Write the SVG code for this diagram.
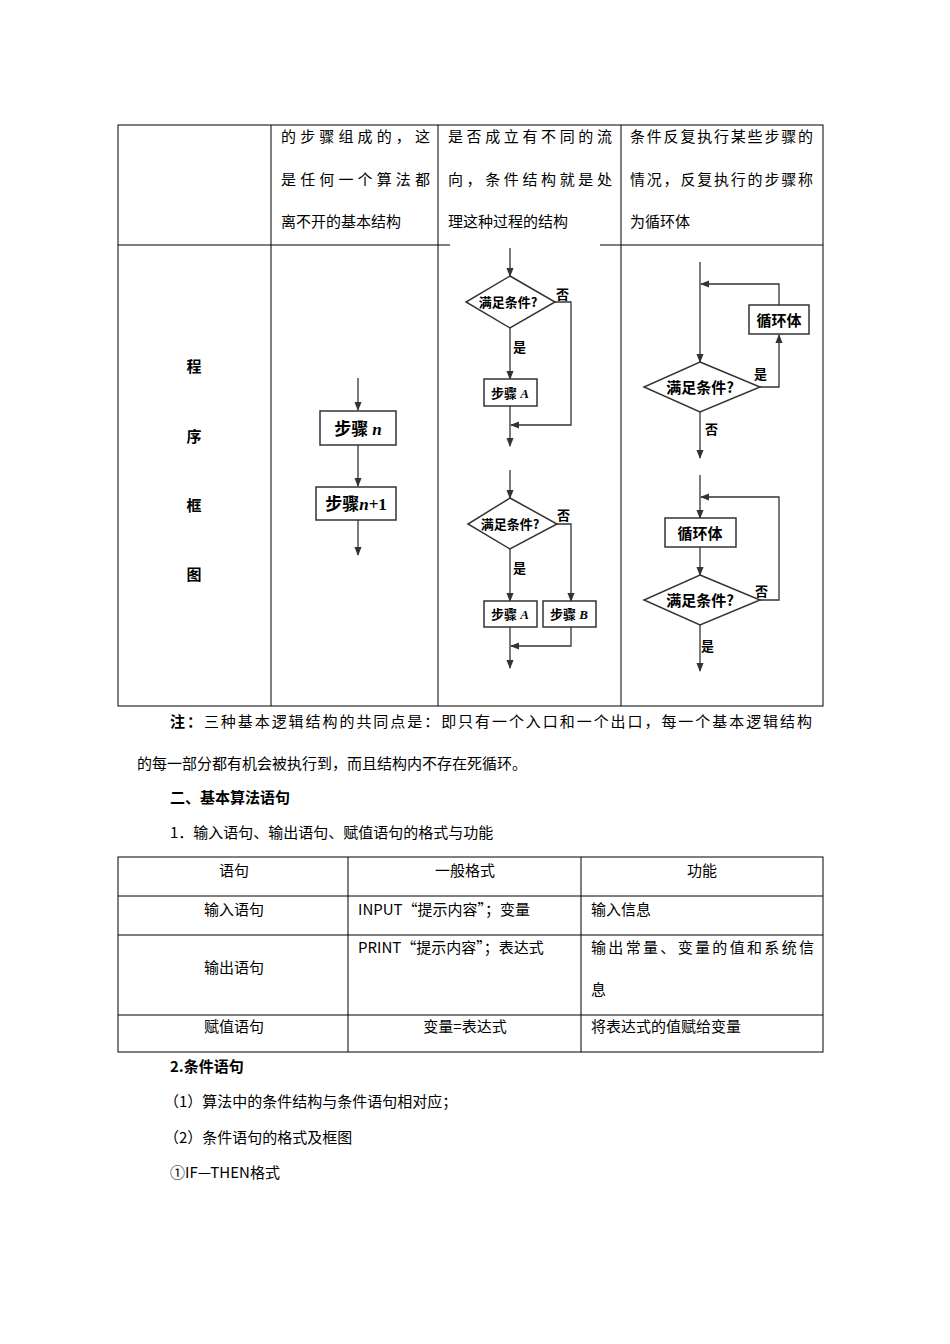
<svg xmlns="http://www.w3.org/2000/svg" width="950" height="1344" viewBox="0 0 950 1344">
<style>
text{font-family:"Noto Sans CJK SC",sans-serif;fill:#000}
.t{font-size:15px}
.b{font-weight:bold}
.c{text-anchor:middle}
.l{font-size:13px;font-weight:bold}
.g{stroke:#000;stroke-width:1;fill:none}
.n{fill:#fff;stroke:#333;stroke-width:1.5}
.w{stroke:#333;stroke-width:1.3;fill:none}
</style>
<defs><marker id="a" viewBox="0 0 10 10" refX="9" refY="5" markerWidth="7" markerHeight="7" orient="auto"><path d="M0,1 L10,5 L0,9 Z" fill="#333"/></marker></defs>
<rect width="950" height="1344" fill="#fff"/>
<g id="table1" class="g">
<rect x="118" y="125" width="705" height="581"/>
<line x1="118" y1="245" x2="823" y2="245"/>
<line x1="271" y1="125" x2="271" y2="706"/>
<line x1="438" y1="125" x2="438" y2="706"/>
<line x1="621" y1="125" x2="621" y2="706"/>
</g>
<rect x="450" y="243" width="150" height="4" fill="#fff"/>
<g id="table1-text" class="t">
<text x="281" y="142" textLength="149" lengthAdjust="spacing">的步骤组成的，这</text>
<text x="281" y="185" textLength="149" lengthAdjust="spacing">是任何一个算法都</text>
<text x="281" y="227">离不开的基本结构</text>
<text x="448" y="142" textLength="164" lengthAdjust="spacing">是否成立有不同的流</text>
<text x="448" y="185" textLength="164" lengthAdjust="spacing">向，条件结构就是处</text>
<text x="448" y="227">理这种过程的结构</text>
<text x="630" y="142" textLength="183" lengthAdjust="spacing">条件反复执行某些步骤的</text>
<text x="630" y="185" textLength="183" lengthAdjust="spacing">情况，反复执行的步骤称</text>
<text x="630" y="227">为循环体</text>
<text class="b c" x="194" y="372">程</text>
<text class="b c" x="194" y="442">序</text>
<text class="b c" x="194" y="511">框</text>
<text class="b c" x="194" y="580">图</text>
</g>
<g id="connectors" class="w">
<line x1="358" y1="378" x2="358" y2="410" marker-end="url(#a)"/>
<line x1="358" y1="445" x2="358" y2="486" marker-end="url(#a)"/>
<line x1="358" y1="520" x2="358" y2="555" marker-end="url(#a)"/>
<line x1="510" y1="248" x2="510" y2="276" marker-end="url(#a)"/>
<line x1="510" y1="328" x2="510" y2="379" marker-end="url(#a)"/>
<polyline points="555,302 571,302 571,425 511,425" marker-end="url(#a)"/>
<line x1="510" y1="406" x2="510" y2="446" marker-end="url(#a)"/>
<line x1="510" y1="470" x2="510" y2="498" marker-end="url(#a)"/>
<line x1="510" y1="549" x2="510" y2="601" marker-end="url(#a)"/>
<polyline points="557,524 571,524 571,601" marker-end="url(#a)"/>
<line x1="510" y1="627" x2="510" y2="668" marker-end="url(#a)"/>
<polyline points="571,627 571,646 511,646" marker-end="url(#a)"/>
<line x1="700" y1="262" x2="700" y2="362" marker-end="url(#a)"/>
<polyline points="779,305 779,284 701,284" marker-end="url(#a)"/>
<polyline points="760,387 779,387 779,335" marker-end="url(#a)"/>
<line x1="700" y1="412" x2="700" y2="458" marker-end="url(#a)"/>
<line x1="700" y1="475" x2="700" y2="518" marker-end="url(#a)"/>
<polyline points="760,600 779,600 779,497 701,497" marker-end="url(#a)"/>
<line x1="700" y1="547" x2="700" y2="575" marker-end="url(#a)"/>
<line x1="700" y1="625" x2="700" y2="671" marker-end="url(#a)"/>
</g>
<g id="seq-n"><rect class="n" x="320" y="411" width="76" height="34"/><text class="c" x="358" y="435" font-size="17" font-weight="bold">步骤 <tspan font-style="italic" font-family="Liberation Serif">n</tspan></text></g>
<g id="seq-n1"><rect class="n" x="316" y="487" width="80" height="33"/><text class="c" x="356" y="510" font-size="17" font-weight="bold">步骤<tspan font-style="italic" font-family="Liberation Serif">n</tspan><tspan font-family="Liberation Serif">+1</tspan></text></g>
<g id="if1-cond"><polygon class="n" points="510,276 555,302 510,328 466,302"/><text class="l c" x="508" y="307">满足条件?</text></g>
<g id="if1-A"><rect class="n" x="484" y="379" width="53" height="27"/><text class="l c" x="510" y="398">步骤<tspan font-style="italic" font-family="Liberation Serif"> A</tspan></text></g>
<g id="if2-cond"><polygon class="n" points="510,498 557,524 510,549 468,524"/><text class="l c" x="510" y="529">满足条件?</text></g>
<g id="if2-A"><rect class="n" x="484" y="601" width="53" height="26"/><text class="l c" x="510" y="619">步骤<tspan font-style="italic" font-family="Liberation Serif"> A</tspan></text></g>
<g id="if2-B"><rect class="n" x="543" y="601" width="53" height="26"/><text class="l c" x="569" y="619">步骤<tspan font-style="italic" font-family="Liberation Serif"> B</tspan></text></g>
<g id="wh-body"><rect class="n" x="749" y="305" width="60" height="29"/><text class="c" x="779" y="326" font-size="15" font-weight="bold">循环体</text></g>
<g id="wh-cond"><polygon class="n" points="700,362 760,387 700,412 644,387"/><text class="c" x="700" y="393" font-size="15" font-weight="bold">满足条件?</text></g>
<g id="un-body"><rect class="n" x="665" y="518" width="71" height="29"/><text class="c" x="700" y="539" font-size="15" font-weight="bold">循环体</text></g>
<g id="un-cond"><polygon class="n" points="700,575 760,600 700,625 644,600"/><text class="c" x="700" y="606" font-size="15" font-weight="bold">满足条件?</text></g>
<g id="labels" class="l">
<text x="556" y="299">否</text><text x="513" y="352">是</text>
<text x="557" y="520">否</text><text x="513" y="573">是</text>
<text x="754" y="379">是</text><text x="705" y="434">否</text>
<text x="755" y="596">否</text><text x="701" y="651">是</text>
</g>
<g id="body" class="t">
<text x="170" y="727" textLength="642" lengthAdjust="spacing"><tspan class="b">注：</tspan>三种基本逻辑结构的共同点是：即只有一个入口和一个出口，每一个基本逻辑结构</text>
<text x="137" y="769">的每一部分都有机会被执行到，而且结构内不存在死循环。</text>
<text class="b" x="170" y="803">二、基本算法语句</text>
<text x="170" y="838">1．输入语句、输出语句、赋值语句的格式与功能</text>
</g>
<g id="table2" class="g">
<rect x="118" y="857" width="705" height="195"/>
<line x1="118" y1="896" x2="823" y2="896"/>
<line x1="118" y1="935" x2="823" y2="935"/>
<line x1="118" y1="1015" x2="823" y2="1015"/>
<line x1="348" y1="857" x2="348" y2="1052"/>
<line x1="581" y1="857" x2="581" y2="1052"/>
</g>
<g id="table2-text" class="t">
<text class="c" x="234" y="876">语句</text><text class="c" x="465" y="876">一般格式</text><text class="c" x="702" y="876">功能</text>
<text class="c" x="234" y="915">输入语句</text><text x="358" y="915">INPUT“提示内容”；变量</text><text x="591" y="915">输入信息</text>
<text class="c" x="234" y="973">输出语句</text><text x="358" y="953">PRINT“提示内容”；表达式</text><text x="591" y="953" textLength="223" lengthAdjust="spacing">输出常量、变量的值和系统信</text><text x="591" y="995">息</text>
<text class="c" x="234" y="1032">赋值语句</text><text class="c" x="465" y="1032">变量=表达式</text><text x="591" y="1032">将表达式的值赋给变量</text>
</g>
<g id="tail" class="t">
<text class="b" x="170" y="1072">2.条件语句</text>
<text x="164" y="1107">（1）算法中的条件结构与条件语句相对应；</text>
<text x="164" y="1143">（2）条件语句的格式及框图</text>
<text x="170" y="1178">①IF—THEN格式</text>
</g>
</svg>
